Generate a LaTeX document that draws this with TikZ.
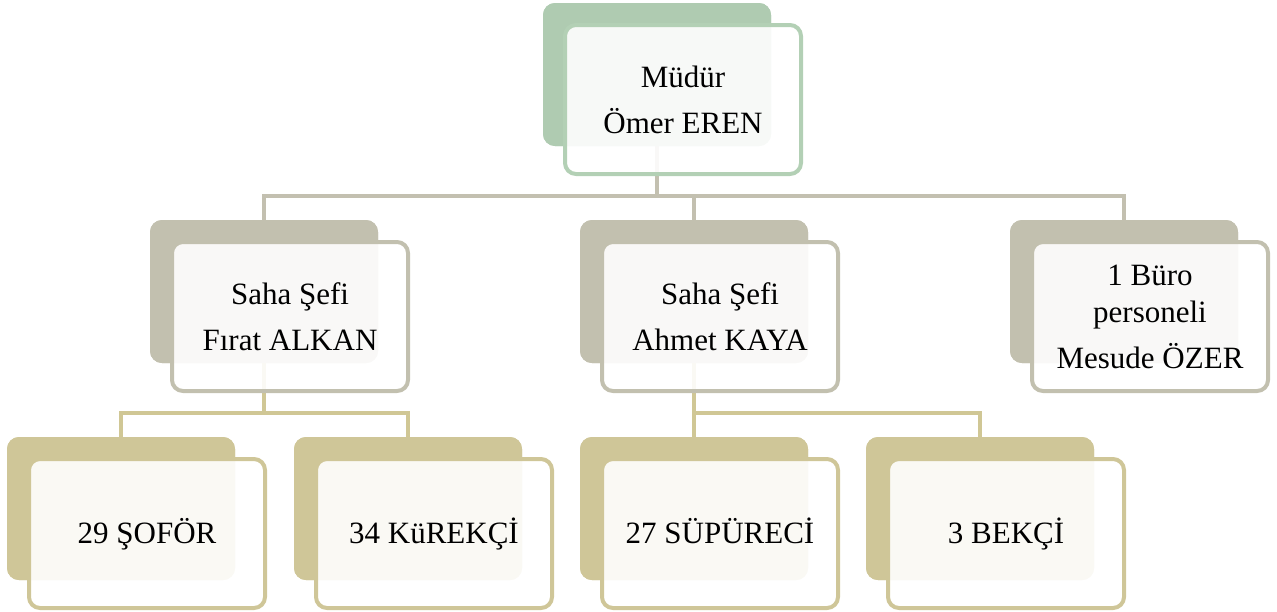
\documentclass[tikz,border=0pt]{standalone}
\usepackage{fontspec}
\setmainfont{Liberation Serif}
\definecolor{gback}{HTML}{AFCBB1}
\definecolor{gline}{HTML}{B3D0B5}
\definecolor{sback}{HTML}{C2C0AF}
\definecolor{tback}{HTML}{CFC698}
\definecolor{sconn}{HTML}{C3C0B0}
\definecolor{tconn}{HTML}{D0C795}
\tikzset{
  backbox/.style={rectangle, rounded corners=12pt, minimum width=228pt, minimum height=143pt, inner sep=0pt, draw=none, fill=#1},
  frontbox/.style={rectangle, rounded corners=11pt, minimum width=236pt, minimum height=149pt, inner sep=0pt, line width=4pt, draw=#1, fill=white, fill opacity=0.9, text opacity=1, align=center, font=\fontsize{31}{46}\selectfont},
  oneline/.style={text height=25pt, text depth=6pt},
  conn/.style={line width=4pt, draw=#1}
}
\begin{document}
\begin{tikzpicture}[x=1pt, y=-1pt]
\useasboundingbox (0,0) rectangle (1277,611);
% back boxes
\node[backbox=gback] (b0) at (657,74.5) {};
\node[backbox=sback] (b1) at (264,291.5) {};
\node[backbox=sback] (b2) at (694,291.5) {};
\node[backbox=sback] (b3) at (1124,291.5) {};
\node[backbox=tback] (c1) at (121,508.5) {};
\node[backbox=tback] (c2) at (408,508.5) {};
\node[backbox=tback] (c3) at (694,508.5) {};
\node[backbox=tback] (c4) at (980,508.5) {};
% connectors
\coordinate (h0) at (657,195.5);
\draw[conn=sconn] (b0.south) -- (h0);
\draw[conn=sconn] (b1.north) |- (h0) -| (b3.north);
\draw[conn=sconn] (h0) -| (b2.north);
\coordinate (h1) at (264,413);
\coordinate (h2) at (694,413);
\draw[conn=tconn] (b1.south) -- (h1);
\draw[conn=tconn] (c1.north) |- (h1) -| (c2.north);
\draw[conn=tconn] (b2.south) -- (h2) -| (c4.north);
\draw[conn=tconn] (h2) -- (c3.north);
% redraw back boxes over connector ends
\node[backbox=gback] at (b0) {};
\node[backbox=sback] at (b1) {};
\node[backbox=sback] at (b2) {};
\node[backbox=sback] at (b3) {};
\node[backbox=tback] at (c1) {};
\node[backbox=tback] at (c2) {};
\node[backbox=tback] at (c3) {};
\node[backbox=tback] at (c4) {};
% front boxes
\node[frontbox=gline] (f0) at (683,99.5) {Müdür\\Ömer EREN};
\node[frontbox=sback] (f1) at (290,316.5) {Saha Şefi\\Fırat ALKAN};
\node[frontbox=sback] (f2) at (720,316.5) {Saha Şefi\\Ahmet KAYA};
\node[frontbox=sback] (f3) at (1150,316.5) {1 Büro\\[-9pt]personeli\\Mesude ÖZER};
\node[frontbox=tback, oneline] (g1) at (147,533.5) {29 ŞOFÖR};
\node[frontbox=tback, oneline] (g2) at (434,533.5) {34 KüREKÇİ};
\node[frontbox=tback, oneline] (g3) at (720,533.5) {27 SÜPÜRECİ};
\node[frontbox=tback, oneline] (g4) at (1006,533.5) {3 BEKÇİ};
\end{tikzpicture}
\end{document}
